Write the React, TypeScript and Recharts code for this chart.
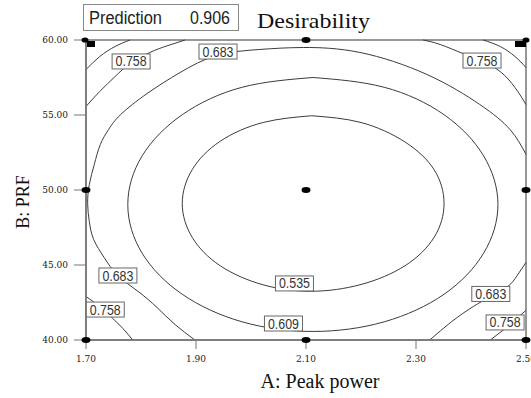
import { ComposedChart, Line, Scatter, XAxis, YAxis, ReferenceArea } from 'recharts';

// Factor levels shown on the axes
const peakPowerTicks = [1.7, 1.9, 2.1, 2.3, 2.5];
const prfTicks = [40, 45, 50, 55, 60];

// Desirability contours, traced as (A: peak power, B: PRF) points
const contour535 = [
  { a: 2.11, b: 54.95 }, { a: 2.2, b: 54.5 }, { a: 2.28, b: 53.2 }, { a: 2.333, b: 51.35 },
  { a: 2.351, b: 49.1 }, { a: 2.333, b: 46.85 }, { a: 2.28, b: 44.95 }, { a: 2.2, b: 43.7 },
  { a: 2.11, b: 43.25 }, { a: 2.022, b: 43.68 }, { a: 1.944, b: 44.95 }, { a: 1.893, b: 46.85 },
  { a: 1.875, b: 49.1 }, { a: 1.893, b: 51.35 }, { a: 1.944, b: 53.25 }, { a: 2.022, b: 54.5 },
  { a: 2.11, b: 54.95 },
];

const contour609 = [
  { a: 2.113, b: 57.5 }, { a: 2.242, b: 56.85 }, { a: 2.351, b: 55.02 }, { a: 2.423, b: 52.27 },
  { a: 2.449, b: 49.03 }, { a: 2.423, b: 45.79 }, { a: 2.351, b: 43.05 }, { a: 2.242, b: 41.21 },
  { a: 2.113, b: 40.57 }, { a: 1.984, b: 41.21 }, { a: 1.875, b: 43.05 }, { a: 1.802, b: 45.79 },
  { a: 1.776, b: 49.03 }, { a: 1.802, b: 52.27 }, { a: 1.875, b: 55.02 }, { a: 1.984, b: 56.85 },
  { a: 2.113, b: 57.5 },
];

const contour683 = [
  { a: 1.898, b: 40.0 }, { a: 1.862, b: 41.03 }, { a: 1.829, b: 42.17 }, { a: 1.795, b: 43.23 },
  { a: 1.758, b: 44.3 }, { a: 1.733, b: 45.5 }, { a: 1.714, b: 46.7 }, { a: 1.706, b: 47.9 },
  { a: 1.703, b: 49.1 }, { a: 1.706, b: 50.37 }, { a: 1.715, b: 51.7 }, { a: 1.726, b: 53.03 },
  { a: 1.741, b: 54.03 }, { a: 1.763, b: 55.03 }, { a: 1.811, b: 56.43 }, { a: 1.871, b: 57.83 },
  { a: 1.938, b: 58.97 }, { a: 2.016, b: 59.37 }, { a: 2.095, b: 59.5 }, { a: 2.198, b: 59.17 },
  { a: 2.32, b: 57.7 }, { a: 2.416, b: 55.7 }, { a: 2.471, b: 54.03 }, { a: 2.5, b: 52.37 },
];

const contour683Corner = [
  { a: 2.5, b: 45.17 }, { a: 2.484, b: 44.3 }, { a: 2.467, b: 43.57 }, { a: 2.436, b: 42.9 },
  { a: 2.404, b: 42.23 }, { a: 2.365, b: 41.23 }, { a: 2.325, b: 40.0 },
];

const contour758TopLeft = [
  { a: 1.7, b: 55.57 }, { a: 1.725, b: 56.57 }, { a: 1.753, b: 57.57 }, { a: 1.78, b: 58.43 },
  { a: 1.816, b: 59.17 }, { a: 1.849, b: 59.63 }, { a: 1.88, b: 60.0 },
];

const contour758TopRight = [
  { a: 2.313, b: 60.0 }, { a: 2.344, b: 59.7 }, { a: 2.385, b: 59.1 }, { a: 2.42, b: 58.57 },
  { a: 2.453, b: 57.9 }, { a: 2.48, b: 56.83 }, { a: 2.5, b: 55.7 },
];

const contour758BottomLeft = [
  { a: 1.7, b: 42.9 }, { a: 1.725, b: 42.23 }, { a: 1.747, b: 41.5 }, { a: 1.767, b: 40.77 },
  { a: 1.785, b: 40.0 },
];

const contour758BottomRight = [
  { a: 2.435, b: 40.0 }, { a: 2.453, b: 40.5 }, { a: 2.471, b: 41.03 }, { a: 2.485, b: 41.5 },
  { a: 2.5, b: 41.97 },
];

const contour832TopLeft = [
  { a: 1.7, b: 58.03 }, { a: 1.725, b: 58.9 }, { a: 1.753, b: 59.57 }, { a: 1.78, b: 60.0 },
];

const contour832TopRight = [
  { a: 2.422, b: 60.0 }, { a: 2.453, b: 59.57 }, { a: 2.48, b: 58.9 }, { a: 2.5, b: 58.17 },
];

const contours = [
  contour535, contour609, contour683, contour683Corner,
  contour758TopLeft, contour758TopRight, contour758BottomLeft, contour758BottomRight,
  contour832TopLeft, contour832TopRight,
];

// Level labels sitting on the contours
const contourLabels = [
  { a: 2.079, b: 43.77, text: '0.535' },
  { a: 2.059, b: 41.1, text: '0.609' },
  { a: 1.94, b: 59.23, text: '0.683' },
  { a: 1.758, b: 44.3, text: '0.683' },
  { a: 2.436, b: 43.07, text: '0.683' },
  { a: 1.782, b: 58.57, text: '0.758' },
  { a: 2.42, b: 58.63, text: '0.758' },
  { a: 1.735, b: 42.03, text: '0.758' },
  { a: 2.462, b: 41.17, text: '0.758' },
];

// Design points
const designPoints = [
  { a: 2.1, b: 60 },
  { a: 1.7, b: 50 }, { a: 2.1, b: 50 }, { a: 2.5, b: 50 },
  { a: 1.7, b: 40 }, { a: 2.1, b: 40 }, { a: 2.5, b: 40 },
];
const flaggedPoints = [
  { a: 1.7, b: 60 },
  { a: 2.5, b: 60 },
];

const fmt = (v: number) => v.toFixed(2);
const tickStyle = { fontFamily: 'DejaVu Serif', fontSize: 9, fill: '#1a1a1a' };

const LabelBox = (props: any) => {
  const { cx, cy, payload } = props;
  return (
    <g>
      <rect x={cx - 19} y={cy - 7.5} width={38} height={15} fill="#fff" stroke="#666" strokeWidth={1} />
      <text
        x={cx}
        y={cy + 5}
        textAnchor="middle"
        fontFamily="Liberation Sans"
        fontSize={14}
        textLength={31}
        lengthAdjust="spacingAndGlyphs"
        fill="#333"
      >
        {payload.text}
      </text>
    </g>
  );
};

const DesignDot = (props: any) => <ellipse cx={props.cx} cy={props.cy} rx={4.5} ry={3} fill="#000" />;

const FlagDot = (props: any) => {
  const { cx, cy, payload } = props;
  const left = payload.a < 2.1;
  return (
    <g fill="#000">
      <ellipse cx={left ? cx - 1 : cx} cy={cy} rx={3.5} ry={2.6} />
      <rect x={left ? cx + 1 : cx - 11} y={cy + 1} width={left ? 8 : 11} height={6} />
    </g>
  );
};

export default function App() {
  return (
    <div style={{ position: 'absolute', left: 0, top: 0, width: 531, height: 398, background: '#fff' }}>
      <ComposedChart width={531} height={398} margin={{ top: 40, right: 5, bottom: 8, left: 26 }}>
        <XAxis
          type="number"
          dataKey="a"
          domain={[1.7, 2.5]}
          ticks={peakPowerTicks}
          interval={0}
          tickFormatter={fmt}
          tickSize={9}
          tickMargin={7}
          height={50}
          tick={tickStyle}
          axisLine={{ stroke: '#777', strokeWidth: 1.5 }}
          tickLine={{ stroke: '#777' }}
        />
        <YAxis
          type="number"
          dataKey="b"
          domain={[40, 60]}
          ticks={prfTicks}
          interval={0}
          tickFormatter={fmt}
          tickSize={12}
          tickMargin={6}
          width={60}
          tick={tickStyle}
          axisLine={{ stroke: '#777', strokeWidth: 1.5 }}
          tickLine={{ stroke: '#777' }}
        />
        <ReferenceArea x1={1.7} x2={2.5} y1={40} y2={60} fill="none" stroke="#777" strokeWidth={1.5} />
        {contours.map((c, i) => (
          <Line
            key={i}
            data={c}
            dataKey="b"
            type="natural"
            stroke="#3c3c3c"
            strokeWidth={1}
            dot={false}
            activeDot={false}
            isAnimationActive={false}
          />
        ))}
        <Scatter data={contourLabels} dataKey="b" shape={LabelBox} isAnimationActive={false} />
        <Scatter data={designPoints} dataKey="b" shape={DesignDot} isAnimationActive={false} />
        <Scatter data={flaggedPoints} dataKey="b" shape={FlagDot} isAnimationActive={false} />
      </ComposedChart>
      <svg width={531} height={398} style={{ position: 'absolute', left: 0, top: 0, pointerEvents: 'none' }}>
        <rect x={83.5} y={4.5} width={155} height={26} fill="#fff" stroke="#888" strokeWidth={1} />
        <text x={89} y={24} fontFamily="Liberation Sans" fontSize={18} textLength={73} lengthAdjust="spacingAndGlyphs" fill="#222">
          Prediction
        </text>
        <text x={190} y={24} fontFamily="Liberation Sans" fontSize={18} textLength={40} lengthAdjust="spacingAndGlyphs" fill="#222">
          0.906
        </text>
        <text x={257} y={28} fontFamily="Liberation Serif" fontSize={21} textLength={113} lengthAdjust="spacingAndGlyphs" fill="#111">
          Desirability
        </text>
        <text x={320} y={388} textAnchor="middle" fontFamily="Liberation Serif" fontSize={20} fill="#111">
          A: Peak power
        </text>
        <text
          x={29}
          y={202}
          textAnchor="middle"
          transform="rotate(-90 29 202)"
          fontFamily="Liberation Serif"
          fontSize={18}
          fill="#111"
        >
          B: PRF
        </text>
      </svg>
    </div>
  );
}
